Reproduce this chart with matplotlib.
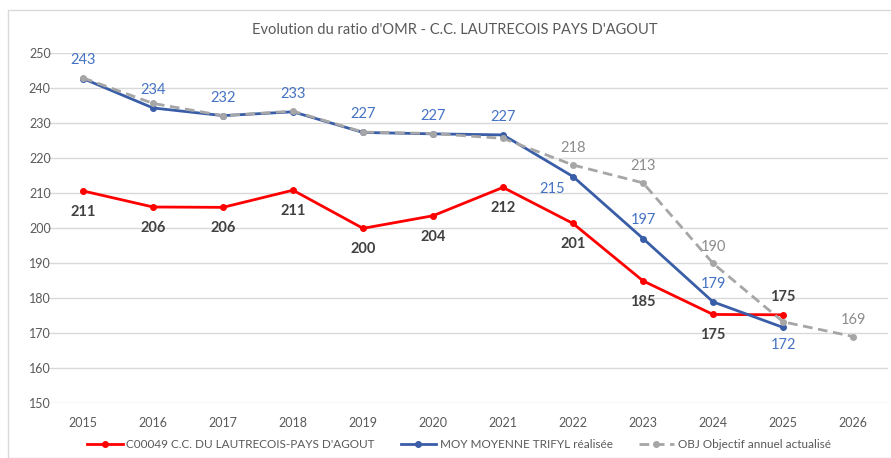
import matplotlib.pyplot as plt
from matplotlib.patches import Rectangle

plt.rcParams['font.family'] = ['Lato', 'DejaVu Sans']

years = [2015, 2016, 2017, 2018, 2019, 2020, 2021, 2022, 2023, 2024, 2025, 2026]

# valeurs
c00049 = [210.6, 206.0, 205.9, 210.8, 199.9, 203.5, 211.6, 201.3, 184.9, 175.3, 175.2]
c00049_lab = [211, 206, 206, 211, 200, 204, 212, 201, 185, 175, 175]
moy = [242.7, 234.3, 232.1, 233.2, 227.3, 226.9, 226.6, 214.7, 197.0, 178.9, 171.6]
moy_lab = [243, 234, 232, 233, 227, 227, 227, 215, 197, 179, 172]
obj = [242.9, 235.6, 232.1, 233.4, 227.4, 227.0, 225.6, 218.0, 212.9, 189.9, 173.2, 169.0]
obj_lab = [None, None, None, None, None, None, None, 218, 213, 190, None, 169]

red = '#FF0000'
blue = '#3A5DA8'
blue_txt = '#4472C4'
grey = '#A6A6A6'
txt = '#595959'

fig = plt.figure(figsize=(8.91, 4.58), dpi=100)
fig.patches.append(Rectangle((8 / 891, 0), 1, 1 - 10 / 458, transform=fig.transFigure,
                             fill=False, edgecolor='#D9D9D9', linewidth=1))
ax = fig.add_axes([48 / 891, 1 - 403 / 458, 840 / 891, 350 / 458])

x = list(range(len(years)))
l1, = ax.plot(x[:11], c00049, color=red, lw=2, marker='o', ms=4, zorder=3,
              label="C00049 C.C. DU LAUTRECOIS-PAYS D'AGOUT")
l2, = ax.plot(x[:11], moy, color=blue, lw=2, marker='o', ms=4, zorder=4,
              label='MOY MOYENNE TRIFYL réalisée')
l3, = ax.plot(x, obj, color=grey, lw=2, ls=(0, (3.5, 2)), marker='o', ms=4, zorder=5,
              label='OBJ Objectif annuel actualisé')

# etiquettes rouges (sous les points sauf 2025)
for i, v in enumerate(c00049):
    dy = 13 if i == 10 else -15
    ax.annotate(str(c00049_lab[i]), (x[i], v), xytext=(0, dy), textcoords='offset points',
                ha='center', va='center', fontsize=10.5, fontweight='bold', color='#404040')

# etiquettes bleues
for i, v in enumerate(moy):
    dx, dy = 0, 13
    if i == 7:
        dx, dy = -15, -9
    if i == 10:
        dy = -13
    ax.annotate(str(moy_lab[i]), (x[i], v), xytext=(dx, dy), textcoords='offset points',
                ha='center', va='center', fontsize=10.5, color=blue_txt)

# etiquettes grises
for i, v in enumerate(obj):
    if obj_lab[i] is None:
        continue
    ax.annotate(str(obj_lab[i]), (x[i], v), xytext=(0, 12), textcoords='offset points',
                ha='center', va='center', fontsize=10.5, color='#8C8C8C')

ax.set_xlim(-0.5, 11.5)
ax.set_ylim(150, 250)
ax.set_yticks(range(150, 251, 10))
ax.set_xticks(x)
ax.set_xticklabels([str(y) for y in years])
ax.grid(axis='y', color='#D9D9D9', lw=1)
ax.set_axisbelow(True)
for s in ax.spines.values():
    s.set_visible(False)
ax.tick_params(length=0, colors=txt, labelsize=9)
ax.tick_params(axis='y', pad=-2)
ax.tick_params(axis='x', pad=10)
for lab in ax.get_yticklabels():
    lab.set_horizontalalignment('right')

fig.text(455 / 891, 1 - 30 / 458, "Evolution du ratio d'OMR - C.C. LAUTRECOIS PAYS D'AGOUT",
         ha='center', va='center', fontsize=10.5, color=txt)

fig.legend(handles=[l1, l2, l3], loc='center', bbox_to_anchor=(459 / 891, 1 - 445 / 458),
           ncol=3, frameon=False, fontsize=8.5, labelcolor=txt, handlelength=3.0,
           columnspacing=2.2, handletextpad=0.3)

fig.savefig('out.png', dpi=100)
